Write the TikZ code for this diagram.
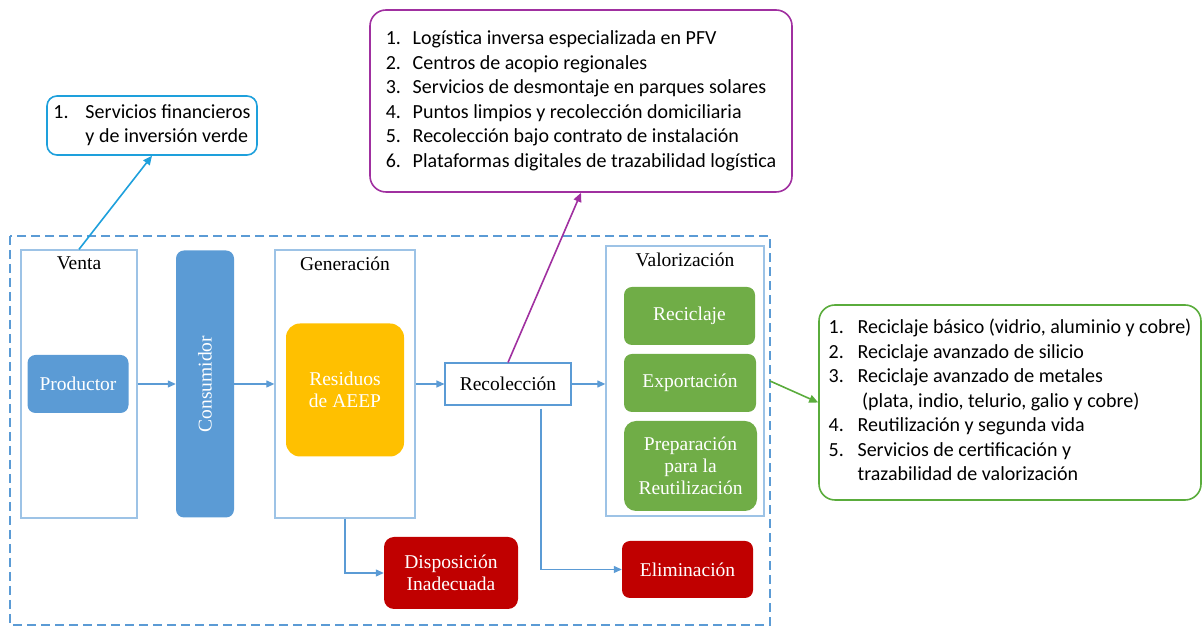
\documentclass[tikz,border=0pt]{standalone}
\usepackage{fontspec}
\setmainfont{Liberation Serif}
\newfontfamily\calloutfont{Carlito}
\usetikzlibrary{positioning,arrows.meta}
\definecolor{boxblue}{RGB}{91,155,213}
\definecolor{lineblue}{RGB}{157,195,230}
\definecolor{wasteyellow}{RGB}{255,192,0}
\definecolor{valgreen}{RGB}{112,173,71}
\definecolor{elimred}{RGB}{192,0,0}
\definecolor{callcyan}{RGB}{30,160,220}
\definecolor{callpurple}{RGB}{160,48,160}
\definecolor{callgreen}{RGB}{90,172,60}
\newcommand{\boxfont}{\fontsize{19.5}{22}\selectfont}
\newcommand{\listfont}{\fontsize{20}{24.5}\selectfont\calloutfont}
\begin{document}
\begin{tikzpicture}[x=1pt,y=1pt]
  \tikzstyle{stage}=[draw=lineblue,line width=1.3pt,minimum width=116pt,minimum height=268pt];
  \tikzstyle{fillbox}=[rounded corners=8pt,text=white,font=\boxfont,align=center,inner sep=0pt];
  \tikzstyle{callout}=[draw,line width=1.6pt,rounded corners=16pt,font=\listfont,inner sep=0pt];
  \tikzstyle{flow}=[draw=boxblue,line width=1.2pt,-{Triangle[length=8pt,width=7pt]}];
  \useasboundingbox (0,0) rectangle (1203,626);
  % outer dashed frame
  \draw[boxblue,line width=1.8pt,dash pattern=on 9pt off 5pt] (10,390) rectangle (770,1);
  \coordinate (frameeast) at (770,245);
  % stages
  \node at (79,242) (venta) [stage] {};
  \node (ventalbl) [below=4pt of venta.north,font=\boxfont] {Venta};
  \node at (78,242) (prod) [fillbox,fill=boxblue,minimum width=101pt,minimum height=58pt] {Productor};
  \node at (205,242) (cons) [fillbox,fill=boxblue,rotate=90,minimum width=267pt,minimum height=58pt] {Consumidor};
  \node at (345,242) (gen) [stage,minimum width=140pt] {};
  \node (genlbl) [below=4pt of gen.north,font=\boxfont] {Generación};
  \node at (345,236) (resid) [fillbox,fill=wasteyellow,rounded corners=14pt,minimum width=118pt,minimum height=133pt] {Residuos\\de AEEP};
  \node at (508,242) (reco) [draw=boxblue,line width=1.1pt,font=\boxfont,minimum width=126pt,minimum height=42pt] {Recolección};
  \node at (685,245) (valor) [stage,minimum width=158pt,minimum height=270pt] {};
  \node (valorlbl) [below=4pt of valor.north,font=\boxfont] {Valorización};
  \node at (689.5,310) (recic) [fillbox,fill=valgreen,minimum width=131pt,minimum height=58pt] {Reciclaje};
  \node at (690,243) (export) [fillbox,fill=valgreen,minimum width=132pt,minimum height=58pt] {Exportación};
  \node at (690.5,160) (prep) [fillbox,fill=valgreen,rounded corners=12pt,minimum width=133pt,minimum height=90pt] {Preparación\\para la\\Reutilización};
  \node at (451,53) (disp) [fillbox,fill=elimred,rounded corners=10pt,minimum width=134pt,minimum height=72pt] {Disposición\\Inadecuada};
  \node at (687.5,56.5) (elim) [fillbox,fill=elimred,minimum width=131pt,minimum height=57pt] {Eliminación};
  % callouts
  \node at (152,500.5) (finan) [callout,draw=callcyan,rounded corners=10pt,minimum width=210pt,minimum height=59pt]
    {\begin{tabular}{@{}p{32pt}@{}l@{}}1. & Servicios financieros\\ & y de inversión verde\end{tabular}};
  \node at (581,525) (logis) [callout,draw=callpurple,minimum width=422pt,minimum height=182pt]
    {\begin{tabular}{@{}p{27pt}@{}l@{}}
      1. & Logística inversa especializada en PFV\\
      2. & Centros de acopio regionales\\
      3. & Servicios de desmontaje en parques solares\\
      4. & Puntos limpios y recolección domiciliaria\\
      5. & Recolección bajo contrato de instalación\\
      6. & Plataformas digitales de trazabilidad logística
    \end{tabular}};
  \node at (1010,223.5) (servval) [callout,draw=callgreen,minimum width=382pt,minimum height=195pt]
    {\begin{tabular}{@{}p{29pt}@{}l@{}}
      1. & Reciclaje básico (vidrio, aluminio y cobre)\\
      2. & Reciclaje avanzado de silicio\\
      3. & Reciclaje avanzado de metales\\
         & \ (plata, indio, telurio, galio y cobre)\\
      4. & Reutilización y segunda vida\\
      5. & Servicios de certificación y\\
         & trazabilidad de valorización
    \end{tabular}};
  % flows
  \draw[flow] (venta.east) -- (cons.north);
  \draw[flow] (cons.south) -- (gen.west);
  \draw[flow] (gen.east) -- (reco.west);
  \draw[flow] (reco.east) -- (reco.east -| valor.west);
  \draw[flow] (gen.south) |- (disp.west);
  \draw[flow] ([xshift=33pt,yshift=-3pt]reco.south) |- (elim.west);
  % links to callouts
  \draw[callcyan,line width=1.6pt,-{Triangle[length=9pt,width=8pt]}] (venta.north) -- (finan.south);
  \draw[callpurple,line width=1.6pt,-{Triangle[length=9pt,width=8pt]}] (reco.north) -- (logis.south);
  \draw[callgreen,line width=1.6pt,-{Triangle[length=9pt,width=8pt]}] (frameeast) -- (servval.west);
\end{tikzpicture}
\end{document}
